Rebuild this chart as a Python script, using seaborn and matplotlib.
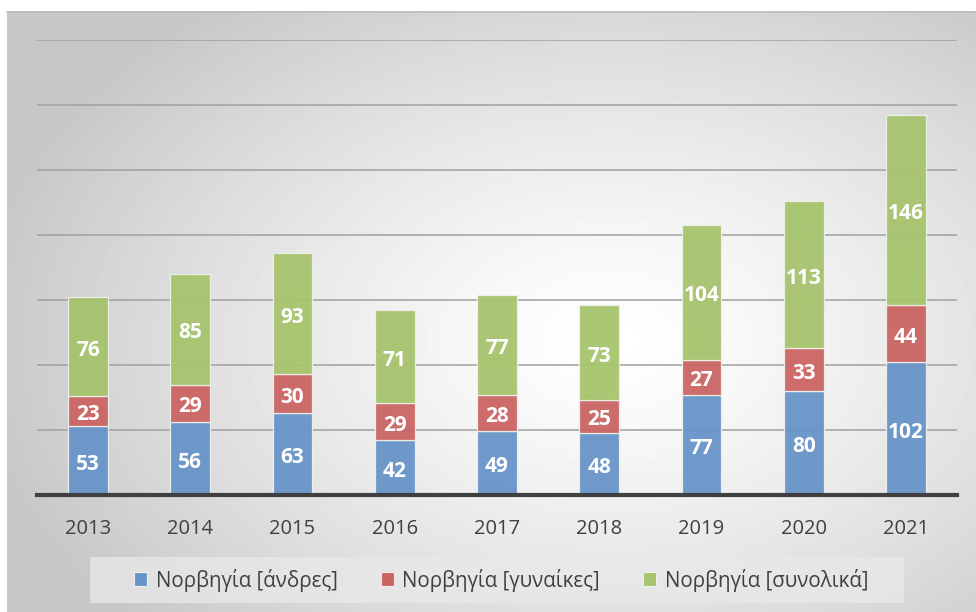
import numpy as np
import pandas as pd
import matplotlib
matplotlib.use("Agg")
import matplotlib.pyplot as plt
from matplotlib.patches import Patch, Rectangle
import seaborn as sns

# Data
years = ["2013", "2014", "2015", "2016", "2017", "2018", "2019", "2020", "2021"]
men = [53, 56, 63, 42, 49, 48, 77, 80, 102]
women = [23, 29, 30, 29, 28, 25, 27, 33, 44]
total = [76, 85, 93, 71, 77, 73, 104, 113, 146]
series_names = ["Νορβηγία [άνδρες]", "Νορβηγία [γυναίκες]", "Νορβηγία [συνολικά]"]
colors = ["#6794C8", "#CB6563", "#A6C46D"]

sns.set_theme(style="white")
plt.rcParams["font.family"] = ["Open Sans", "DejaVu Sans"]

W, H = 976, 612
fig = plt.figure(figsize=(W / 100, H / 100), dpi=100)
fig.patch.set_facecolor("white")

# Radial gray-to-white backdrop of the chart area
bg = fig.add_axes([7 / W, 0, (W - 7) / W, 1 - 11 / H], zorder=0)
yy, xx = np.mgrid[11:H, 7:W]
d = np.sqrt(((xx - 610) / 640.0) ** 2 + ((yy - 340) / 430.0) ** 2)
shade = 1.0 - 0.22 * np.clip(d, 0, 1) ** 1.3
bg.imshow(shade, cmap="gray", vmin=0, vmax=1, aspect="auto",
          interpolation="bilinear")
bg.set_axis_off()
fig.add_artist(plt.Line2D([7 / W, 1], [1 - 11.5 / H, 1 - 11.5 / H],
                          color="#bdbdbd", lw=1.2, zorder=1))

ax = fig.add_axes([37 / W, 1 - 495 / H, 920 / W, 455 / H], zorder=2)
ax.set_facecolor("none")

df = pd.DataFrame({"year": years, "men": men, "women": women, "total": total})
bottoms = [np.zeros(len(years)), np.array(men), np.array(men) + np.array(women)]
for col, color, bottom in zip(["men", "women", "total"], colors, bottoms):
    sns.barplot(data=df, x="year", y=col, bottom=bottom, color=color,
                width=0.39, alpha=0.95, edgecolor="#eef0ea", linewidth=0.9,
                saturation=1, ax=ax, zorder=3)

for cont in ax.containers:
    texts = ax.bar_label(cont, label_type="center", color="white", fontsize=15,
                         fontweight="bold", padding=0)
    for t in texts:
        t.xyann = (0, -2.5)

ax.set_ylim(0, 350)
ax.set_xlim(-0.5, len(years) - 0.5)
ax.set_yticks(np.arange(50, 351, 50))
ax.yaxis.grid(True, color="#a0a0a0", lw=1.1, zorder=1)
ax.set_axisbelow(True)
ax.tick_params(axis="y", left=False, labelleft=False)
ax.tick_params(axis="x", bottom=False, labelsize=14.5, labelcolor="#404040", pad=11)
ax.set_xlabel("")
ax.set_ylabel("")
for s in ["top", "right", "left"]:
    ax.spines[s].set_visible(False)
ax.spines["bottom"].set_color("#404040")
ax.spines["bottom"].set_linewidth(3)
ax.spines["bottom"].set_zorder(5)

# Legend panel
fig.add_artist(Rectangle((90 / W, 1 - 603 / H), 814 / W, 46 / H,
                         transform=fig.transFigure, facecolor="#e9e9e9",
                         edgecolor="none", alpha=0.75, zorder=3))
handles = [Patch(facecolor=c, edgecolor="#eef0ea", linewidth=0.8) for c in colors]
leg = fig.legend(handles, series_names, loc="center",
                 bbox_to_anchor=(501 / W, 1 - 580 / H), ncol=3,
                 frameon=False, fontsize=14.8,
                 handlelength=0.65, handleheight=0.65, handletextpad=0.4,
                 columnspacing=2.1, labelcolor="#404040")
leg.set_zorder(4)

fig.savefig("out.png", dpi=100)
